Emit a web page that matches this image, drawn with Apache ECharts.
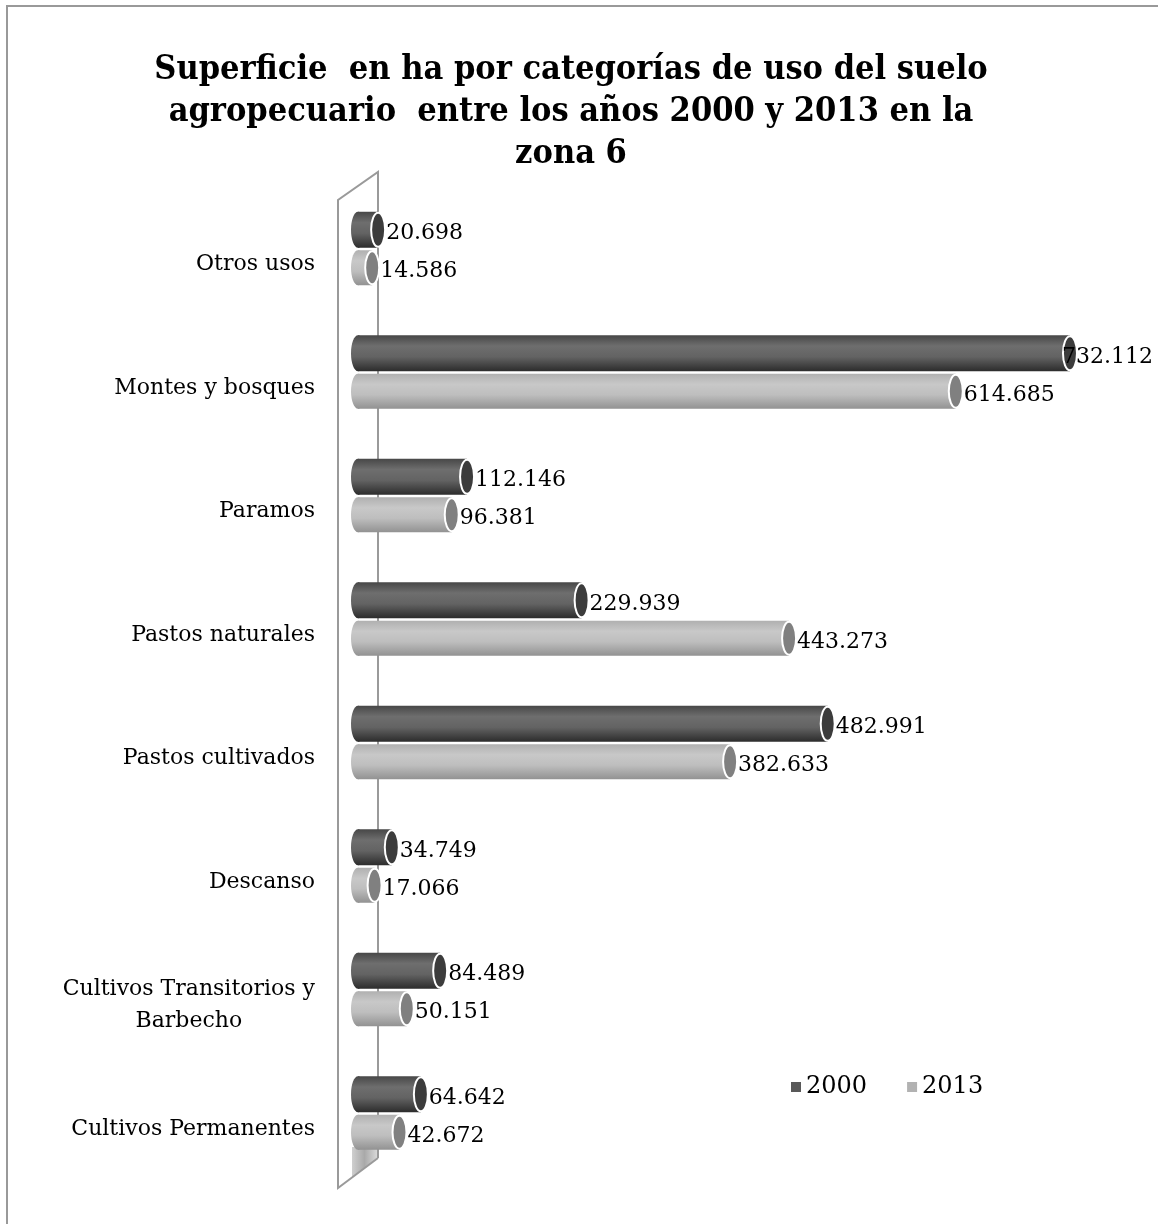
<!DOCTYPE html>
<html>
<head>
<meta charset="utf-8">
<script src="https://cdn.jsdelivr.net/npm/echarts@6/dist/echarts.min.js"></script>
<style>
  html, body { margin: 0; padding: 0; background: #fff; }
  #chart { width: 1158px; height: 1224px; }
</style>
</head>
<body>
<div id="chart"></div>
<script>
// Land-use categories, bottom to top as drawn on the vertical axis
const categories = [
  'Cultivos Permanentes',
  'Cultivos Transitorios y\nBarbecho',
  'Descanso',
  'Pastos cultivados',
  'Pastos naturales',
  'Paramos',
  'Montes y bosques',
  'Otros usos'
];
// Area in hectares per category
const values2000 = [64642, 84489, 34749, 482991, 229939, 112146, 732112, 20698];
const values2013 = [42672, 50151, 17066, 382633, 443273, 96381, 614685, 14586];
const seriesNames = ['2000', '2013'];

const SERIF = '"DejaVu Serif", "Liberation Serif", serif';

function fmt(v) {
  return String(v).replace(/\B(?=(\d{3})+(?!\d))/g, '.');
}

// Cylinder styles: body gradient, end-cap fill, legend colour
const looks = [
  {
    legend: '#595959',
    body: [[0, '#474747'], [0.3, '#6e6e6e'], [0.6, '#636363'], [1, '#2c2c2c']],
    cap: '#3c3c3c',
    top: -37, h: 36
  },
  {
    legend: '#b2b2b2',
    body: [[0, '#b0b0b0'], [0.3, '#c8c8c8'], [0.6, '#bebebe'], [1, '#929292']],
    cap: '#808080',
    top: 1.5, h: 35
  }
];

function cylinder(look) {
  return function (params, api) {
    const val = api.value(0);
    const cat = api.value(1);
    const p0 = api.coord([0, cat]);
    const p1 = api.coord([val, cat]);
    const y = p0[1] + look.top;
    const h = look.h;
    const rx = 7;
    const grad = new echarts.graphic.LinearGradient(0, 0, 0, 1,
      look.body.map(s => ({ offset: s[0], color: s[1] })));
    const labelX = Math.min(p1[0] + rx + 1, api.getWidth() - 96);
    return {
      type: 'group',
      children: [
        {
          type: 'ellipse',
          shape: { cx: p0[0], cy: y + h / 2, rx: rx, ry: h / 2 },
          style: { fill: grad }
        },
        {
          type: 'rect',
          shape: { x: p0[0], y: y, width: Math.max(p1[0] - p0[0], 0), height: h },
          style: { fill: grad }
        },
        {
          type: 'ellipse',
          shape: { cx: p1[0], cy: y + h / 2, rx: rx, ry: h / 2 - 1 },
          style: { fill: look.cap, stroke: '#ffffff', lineWidth: 2 }
        },
        {
          type: 'text',
          x: labelX,
          y: y + h / 2 + 4,
          style: {
            text: fmt(val),
            fill: '#000',
            font: '22px ' + SERIF,
            align: 'left',
            verticalAlign: 'middle'
          },
          z2: 10
        }
      ]
    };
  };
}

const chart = echarts.init(document.getElementById('chart'), null, { renderer: 'canvas' });

const option = {
  backgroundColor: '#ffffff',
  animation: false,
  title: {
    text: 'Superficie  en ha por categorías de uso del suelo\nagropecuario  entre los años 2000 y 2013 en la\nzona 6',
    left: 566,
    top: 44,
    textAlign: 'center',
    textStyle: {
      fontFamily: '"DejaVu Serif Condensed", ' + SERIF,
      fontWeight: 'bold',
      fontSize: 34,
      lineHeight: 42,
      color: '#000'
    }
  },
  legend: {
    data: seriesNames,
    left: 786,
    top: 1070,
    icon: 'rect',
    itemWidth: 10,
    itemHeight: 10,
    itemGap: 40,
    textStyle: { fontFamily: SERIF, fontSize: 24, color: '#000' }
  },
  grid: { left: 358, right: 22, top: 187, bottom: 49, containLabel: false },
  xAxis: {
    type: 'value',
    min: 0,
    max: 800000,
    show: false
  },
  yAxis: {
    type: 'category',
    data: categories,
    axisLine: { show: false },
    axisTick: { show: false },
    splitLine: { show: false },
    axisLabel: {
      margin: 43,
      padding: [32, 0, 0, 0],
      fontFamily: SERIF,
      fontSize: 22,
      lineHeight: 32,
      color: '#000',
      formatter: function (v) {
        const parts = v.split('\n');
        if (parts.length === 1) return v;
        return '{a|' + parts[0] + '}\n{b|' + parts[1] + '}';
      },
      rich: {
        a: { fontFamily: SERIF, fontSize: 22, lineHeight: 32, align: 'right' },
        b: { fontFamily: SERIF, fontSize: 22, lineHeight: 32, align: 'center' }
      }
    }
  },
  graphic: [
    // outer frame
    {
      type: 'rect', z: -10, silent: true,
      shape: { x: 7, y: 6, width: 1170, height: 1240 },
      style: { fill: 'none', stroke: '#999999', lineWidth: 2 }
    },
    // floor shading under the wall
    {
      type: 'polygon', z: -5, silent: true,
      shape: { points: [[352, 1147], [377, 1147], [377, 1159], [352, 1177]] },
      style: {
        fill: new echarts.graphic.LinearGradient(0, 0, 1, 0, [
          { offset: 0, color: '#cfcfcf' }, { offset: 0.5, color: '#a9a9a9' }, { offset: 1, color: '#d8d8d8' }
        ])
      }
    },
    // side wall of the category axis
    {
      type: 'polyline', z: -4, silent: true,
      shape: { points: [[378, 1158], [338, 1188], [338, 200], [378, 172], [378, 1158]] },
      style: { fill: 'none', stroke: '#9a9a9a', lineWidth: 2 }
    }
  ],
  series: [
    {
      name: seriesNames[0],
      type: 'custom',
      renderItem: cylinder(looks[0]),
      itemStyle: { color: looks[0].legend },
      encode: { x: 0, y: 1 },
      data: values2000.map((v, i) => [v, i]),
      z: 5
    },
    {
      name: seriesNames[1],
      type: 'custom',
      renderItem: cylinder(looks[1]),
      itemStyle: { color: looks[1].legend },
      encode: { x: 0, y: 1 },
      data: values2013.map((v, i) => [v, i]),
      z: 5
    }
  ]
};

chart.setOption(option);
</script>
</body>
</html>
